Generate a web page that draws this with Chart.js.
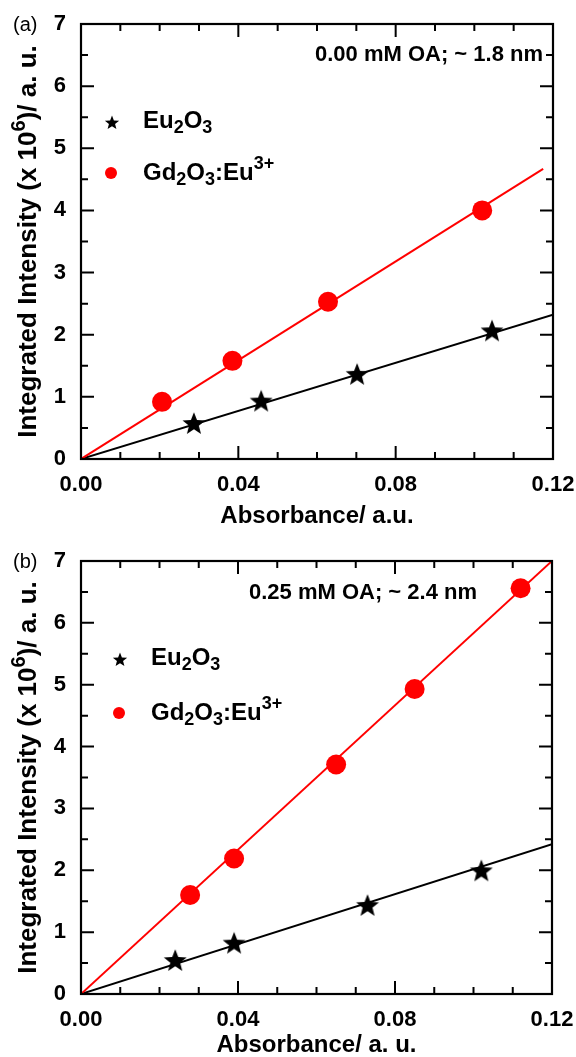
<!DOCTYPE html>
<html>
<head>
<meta charset="utf-8">
<script src="https://cdn.jsdelivr.net/npm/chart.js@4.4.1/dist/chart.umd.min.js"></script>
<style>
  html, body { margin: 0; padding: 0; background: #fff; }
  .panel { position: absolute; left: 0; width: 576px; }
</style>
</head>
<body>
<div class="panel" style="top:0;height:537px"><canvas id="chartA"></canvas></div>
<div class="panel" style="top:537px;height:520px"><canvas id="chartB"></canvas></div>
<script>
// ---- data ----
// panel (a) : 0.00 mM OA
const euA_x = [0.0287, 0.0458, 0.0702, 0.1045];
const euA_y = [0.58, 0.94, 1.37, 2.07];
const gdA_x = [0.0206, 0.0385, 0.0628, 0.1020];
const gdA_y = [0.92, 1.58, 2.53, 4.00];
const fitEuA = [[0, 0], [0.12, 2.32]];
const fitGdA = [[0, 0], [0.1175, 4.67]];

// panel (b) : 0.25 mM OA
const euB_x = [0.0240, 0.0390, 0.0730, 0.1020];
const euB_y = [0.55, 0.83, 1.44, 2.00];
const gdB_x = [0.0278, 0.0390, 0.0650, 0.0850, 0.1120];
const gdB_y = [1.60, 2.19, 3.71, 4.93, 6.56];
const fitEuB = [[0, 0], [0.12, 2.42]];
const fitGdB = [[0, 0], [0.12, 7.0]];

// axes
const xMin = 0, xMax = 0.12, xStep = 0.04;
const yMin = 0, yMax = 7, yStep = 1;
const xMinor = [0.01, 0.02, 0.03, 0.05, 0.06, 0.07, 0.09, 0.10, 0.11];
const xMajor = [0.04, 0.08];
const yMinor = [0.5, 1.5, 2.5, 3.5, 4.5, 5.5, 6.5];
const yMajor = [1, 2, 3, 4, 5, 6];

const FONT = '"Liberation Sans", Arial, sans-serif';
const RED = '#ff0000';

function pts(xs, ys) {
  return xs.map((x, i) => ({ x: x, y: ys[i] }));
}
function pairs(p) {
  return p.map(q => ({ x: q[0], y: q[1] }));
}

// filled five point star used as point style
function starImage(r) {
  const s = Math.ceil(r * 2 + 2);
  const c = document.createElement('canvas');
  c.width = s; c.height = s;
  const g = c.getContext('2d');
  g.translate(s / 2, s / 2 + r * 0.1);
  drawStar(g, 0, 0, r);
  return c;
}
function drawStar(g, cx, cy, r) {
  g.beginPath();
  for (let i = 0; i < 10; i++) {
    const rad = i % 2 ? r * 0.43 : r;
    const a = -Math.PI / 2 + i * Math.PI / 5;
    g.lineTo(cx + rad * Math.cos(a), cy + rad * Math.sin(a));
  }
  g.closePath();
  g.fillStyle = '#000';
  g.fill();
}

// text with sub (-1) / superscript (1) parts
function drawRich(ctx, parts, x, y, size, align) {
  const small = Math.round(size * 0.75);
  const fnt = p => 'bold ' + (p[1] ? small : size) + 'px ' + FONT;
  let w = 0;
  parts.forEach(p => { ctx.font = fnt(p); w += ctx.measureText(p[0]).width; });
  let cx = align === 'center' ? x - w / 2 : (align === 'right' ? x - w : x);
  ctx.textAlign = 'left';
  ctx.textBaseline = 'middle';
  parts.forEach(p => {
    ctx.font = fnt(p);
    let dy = 0;
    if (p[1] === -1) dy = size * 0.3;
    if (p[1] === 1) dy = -size * 0.36;
    ctx.fillText(p[0], cx, y + dy);
    cx += ctx.measureText(p[0]).width;
  });
}

const decor = {
  id: 'decor',
  afterDraw(chart, args, o) {
    const ctx = chart.ctx;
    const xs = chart.scales.x, ys = chart.scales.y;
    const a = chart.chartArea;
    ctx.save();
    ctx.fillStyle = '#000';
    ctx.strokeStyle = '#000';
    ctx.lineWidth = 2;

    // inward ticks on all four sides
    const tick = (vals, len) => {
      vals.forEach(v => {
        const px = xs.getPixelForValue(v);
        ctx.beginPath();
        ctx.moveTo(px, a.bottom); ctx.lineTo(px, a.bottom - len);
        ctx.moveTo(px, a.top); ctx.lineTo(px, a.top + len);
        ctx.stroke();
      });
    };
    const tickY = (vals, len) => {
      vals.forEach(v => {
        const py = ys.getPixelForValue(v);
        ctx.beginPath();
        ctx.moveTo(a.left, py); ctx.lineTo(a.left + len, py);
        ctx.moveTo(a.right, py); ctx.lineTo(a.right - len, py);
        ctx.stroke();
      });
    };
    tick(xMinor, 7); tick(xMajor, 13);
    tickY(yMinor, 7); tickY(yMajor, 13);
    ctx.lineWidth = 2.2;
    ctx.strokeRect(a.left, a.top, a.right - a.left, a.bottom - a.top);

    // panel letter
    ctx.font = '20px ' + FONT;
    ctx.textAlign = 'left';
    ctx.textBaseline = 'middle';
    ctx.fillText(o.letter, 13, 25);

    // annotation
    drawRich(ctx, [[o.note, 0]], o.noteX, o.noteY, 22, o.noteAlign);

    // legend
    drawStar(ctx, o.legX, 123, 7.5);
    drawRich(ctx, [['Eu', 0], ['2', -1], ['O', 0], ['3', -1]], o.legX + 31, 121, 24, 'left');
    ctx.beginPath();
    ctx.arc(o.legX - 1, o.legY2, 6, 0, Math.PI * 2);
    ctx.fillStyle = RED;
    ctx.fill();
    ctx.fillStyle = '#000';
    drawRich(ctx, [['Gd', 0], ['2', -1], ['O', 0], ['3', -1], [':Eu', 0], ['3+', 1]],
      o.legX + 31, o.legY2, 24, 'left');

    // axis titles
    drawRich(ctx, [[o.xTitle, 0]], (a.left + a.right) / 2, a.bottom + o.xTitleDy, 24, 'center');
    ctx.save();
    ctx.translate(29, (a.top + a.bottom) / 2);
    ctx.rotate(-Math.PI / 2);
    drawRich(ctx, [['Integrated Intensity (x 10', 0], ['6', 1], [')/ a. u.', 0]], 0, 0, 26, 'center');
    ctx.restore();
    ctx.restore();
  }
};

const star = starImage(12);

function makePanel(id, eu, gd, fitEu, fitGd, rightPad, xHeight, deco) {
  const data = {
    datasets: [
      { type: 'scatter', data: gd, pointStyle: 'circle', pointRadius: 10,
        backgroundColor: RED, borderWidth: 0, order: 0 },
      { type: 'scatter', data: eu, pointStyle: star, pointRadius: 12, order: 0 },
      { type: 'line', data: fitGd, borderColor: RED, borderWidth: 2,
        pointRadius: 0, order: 1 },
      { type: 'line', data: fitEu, borderColor: '#000', borderWidth: 2,
        pointRadius: 0, order: 1 }
    ]
  };
  const config = {
    type: 'scatter',
    data: data,
    options: {
      responsive: true,
      maintainAspectRatio: false,
      animation: false,
      events: [],
      layout: { padding: { top: 24, right: rightPad, left: 0, bottom: 0 } },
      plugins: { legend: { display: false }, tooltip: { enabled: false }, decor: deco },
      scales: {
        x: {
          type: 'linear', min: xMin, max: xMax,
          grid: { display: false, drawTicks: false },
          border: { display: false },
          afterFit: s => { s.height = xHeight; s.paddingLeft = 0; s.paddingRight = 0; },
          ticks: {
            stepSize: xStep, padding: 13, color: '#000',
            font: { family: FONT, size: 22, weight: 'bold' },
            callback: v => v.toFixed(2)
          }
        },
        y: {
          type: 'linear', min: yMin, max: yMax,
          grid: { display: false, drawTicks: false },
          border: { display: false },
          afterFit: s => { s.width = 81; s.paddingTop = 0; s.paddingBottom = 0; },
          ticks: {
            stepSize: yStep, padding: 15, color: '#000',
            font: { family: FONT, size: 22, weight: 'bold' }
          }
        }
      }
    },
    plugins: [decor]
  };
  return new Chart(document.getElementById(id).getContext('2d'), config);
}

chartA = makePanel('chartA', pts(euA_x, euA_y), pts(gdA_x, gdA_y), pairs(fitEuA), pairs(fitGdA),
  23, 78,
  { letter: '(a)', note: '0.00 mM OA; ~ 1.8 nm', noteX: 543, noteY: 55, noteAlign: 'right',
    legX: 112, legY2: 173, xTitle: 'Absorbance/ a.u.', xTitleDy: 57 });

chartB = makePanel('chartB', pts(euB_x, euB_y), pts(gdB_x, gdB_y), pairs(fitEuB), pairs(fitGdB),
  24, 63,
  { letter: '(b)', note: '0.25 mM OA; ~ 2.4 nm', noteX: 249, noteY: 56, noteAlign: 'left',
    legX: 120, legY2: 176, xTitle: 'Absorbance/ a. u.', xTitleDy: 51 });
</script>
</body>
</html>
